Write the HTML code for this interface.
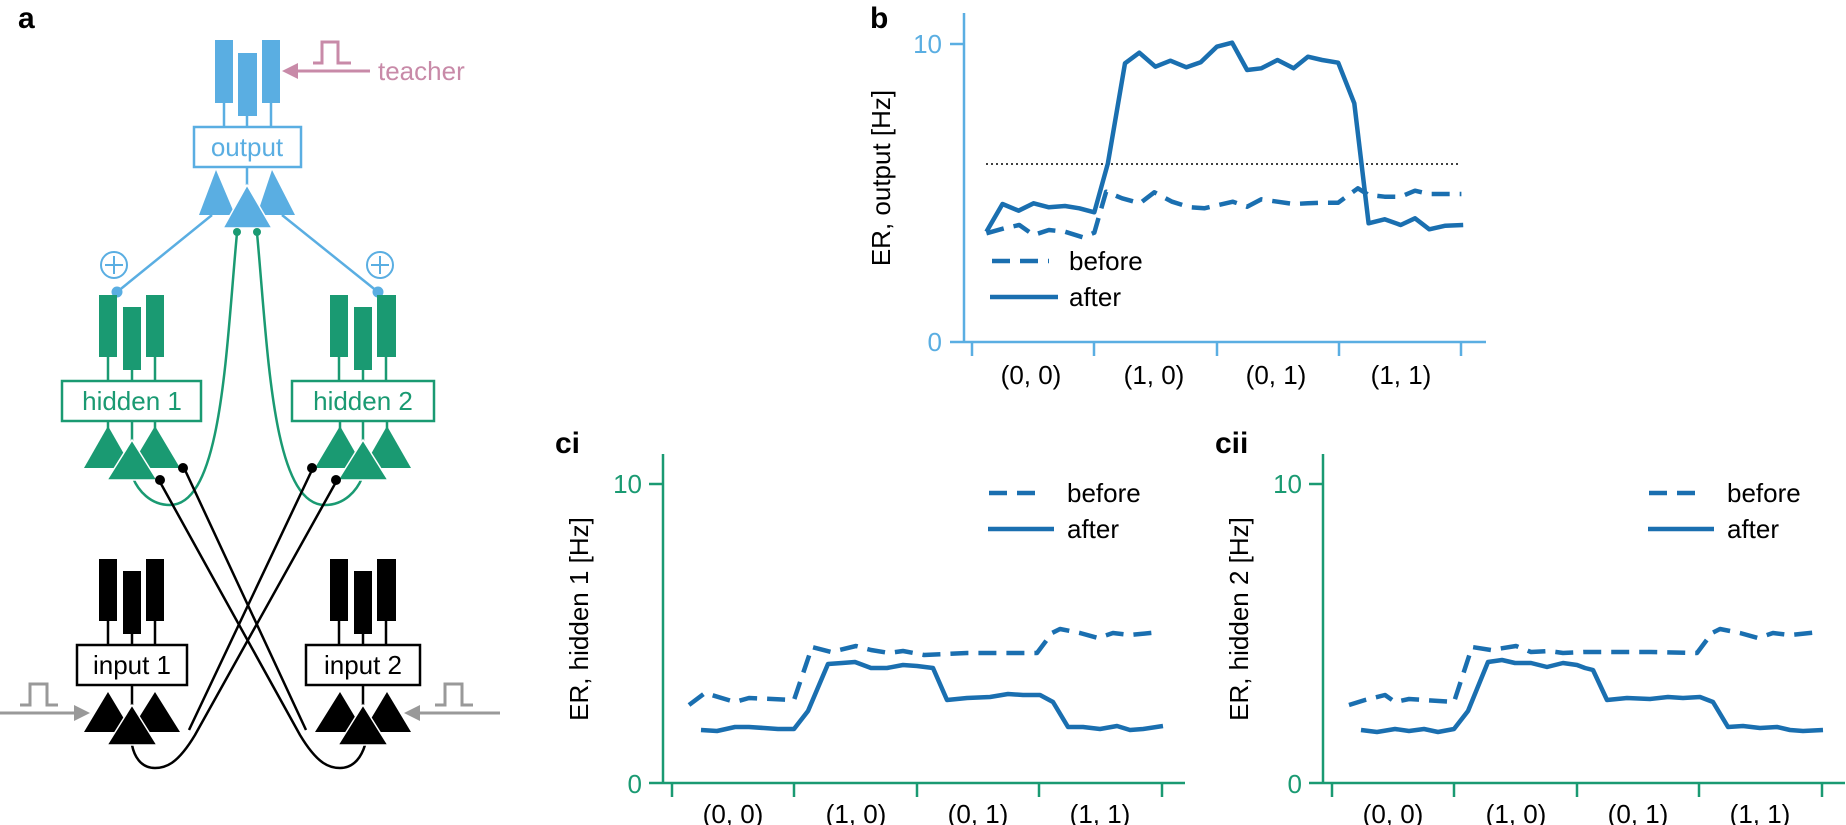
<!DOCTYPE html>
<html><head><meta charset="utf-8"><style>
body{margin:0;background:#fff}
svg{display:block;font-family:"Liberation Sans",Arial,sans-serif}
</style></head><body>
<svg id="s" width="1846" height="825" viewBox="0 0 1846 825" xmlns="http://www.w3.org/2000/svg">
<text x="18" y="28" font-size="30" font-weight="bold">a</text>
<g fill="#5aaee2" stroke="#5aaee2">
<rect x="215" y="40" width="18" height="63" stroke="none"/><rect x="238" y="53" width="19" height="63" stroke="none"/><rect x="262" y="40" width="18" height="63" stroke="none"/>
<line x1="224" y1="103" x2="224" y2="127" stroke-width="2.5"/><line x1="247" y1="116" x2="247" y2="127" stroke-width="2.5"/><line x1="271" y1="103" x2="271" y2="127" stroke-width="2.5"/>
<rect x="194" y="127" width="107" height="40" fill="#fff" stroke-width="2.5"/>
<line x1="247" y1="167" x2="247" y2="185" stroke-width="2.5"/>
<polygon points="216,170 199,215 235,215" stroke="none"/><polygon points="272,170 257,215 295,215" stroke="none"/>
<polygon points="247,185 223,228 272,228" stroke="#fff" stroke-width="1.5"/>
<line x1="212" y1="215" x2="117" y2="292" stroke-width="2.5"/><line x1="282" y1="215" x2="378" y2="292" stroke-width="2.5"/>
<circle cx="117" cy="292" r="5"/><circle cx="378" cy="292" r="5"/>
<g fill="none" stroke-width="2"><circle cx="114" cy="265" r="13"/><path d="M114 256v18M105 265h18"/><circle cx="380" cy="265" r="13"/><path d="M380 256v18M371 265h18"/></g>
</g>
<text x="247" y="156" font-size="26" fill="#5aaee2" text-anchor="middle">output</text>
<g stroke="#c88aa8" fill="none" stroke-width="3"><polyline points="313,63 322,63 322,42 338,42 338,63 351,63"/><line x1="370" y1="71" x2="295" y2="71"/></g>
<polygon points="282,71 298,63 298,79" fill="#c88aa8"/>
<text x="378" y="80" font-size="26" fill="#c88aa8">teacher</text>
<g fill="none" stroke="#1a9a72" stroke-width="2.5">
<path d="M237,233 C226,350 222,505 170,505 C150,505 138,490 133,478"/>
<path d="M257,233 C268,350 272,505 325,505 C345,505 357,490 362,478"/>
</g>
<circle cx="237" cy="232" r="4" fill="#1a9a72"/><circle cx="257" cy="232" r="4" fill="#1a9a72"/>
<g fill="#1a9a72" stroke="#1a9a72">
<rect x="99" y="295" width="18" height="62" stroke="none"/><rect x="123" y="307" width="18" height="63" stroke="none"/><rect x="146" y="295" width="18" height="62" stroke="none"/>
<line x1="108" y1="357" x2="108" y2="381" stroke-width="2.5"/><line x1="132" y1="370" x2="132" y2="381" stroke-width="2.5"/><line x1="155" y1="357" x2="155" y2="381" stroke-width="2.5"/>
<line x1="108" y1="421" x2="108" y2="430" stroke-width="2.5"/><line x1="132" y1="421" x2="132" y2="442" stroke-width="2.5"/><line x1="155" y1="421" x2="155" y2="430" stroke-width="2.5"/>
<polygon points="108,426 84,468 132,468" stroke="none"/><polygon points="155,426 130,468 180,468" stroke="none"/>
<polygon points="132,440 107,480 157,480" stroke="#fff" stroke-width="1.5"/>
<rect x="62" y="381" width="139" height="40" fill="#fff" stroke-width="2.5"/>
</g>
<text x="132" y="410" font-size="26" fill="#1a9a72" text-anchor="middle">hidden 1</text>
<g fill="#1a9a72" stroke="#1a9a72">
<rect x="330" y="295" width="18" height="62" stroke="none"/><rect x="354" y="307" width="18" height="63" stroke="none"/><rect x="377" y="295" width="19" height="62" stroke="none"/>
<line x1="339" y1="357" x2="339" y2="381" stroke-width="2.5"/><line x1="363" y1="370" x2="363" y2="381" stroke-width="2.5"/><line x1="386" y1="357" x2="386" y2="381" stroke-width="2.5"/>
<line x1="340" y1="421" x2="340" y2="430" stroke-width="2.5"/><line x1="363" y1="421" x2="363" y2="442" stroke-width="2.5"/><line x1="387" y1="421" x2="387" y2="430" stroke-width="2.5"/>
<polygon points="340,426 315,468 364,468" stroke="none"/><polygon points="387,426 363,468 411,468" stroke="none"/>
<polygon points="363,440 338,480 388,480" stroke="#fff" stroke-width="1.5"/>
<rect x="292" y="381" width="142" height="40" fill="#fff" stroke-width="2.5"/>
</g>
<text x="363" y="410" font-size="26" fill="#1a9a72" text-anchor="middle">hidden 2</text>
<g fill="none" stroke="#000" stroke-width="2.5">
<path d="M160,482 L300,735 C318,765 330,768 340,768 C355,768 362,755 365,745"/>
<path d="M185,470 L306,730"/>
<path d="M336,482 L195,735 C177,765 165,768 155,768 C140,768 134,755 132,745"/>
<path d="M312,470 L189,730"/>
</g>
<g fill="#000"><circle cx="160" cy="480" r="5"/><circle cx="183" cy="468" r="5"/><circle cx="312" cy="468" r="5"/><circle cx="336" cy="480" r="5"/></g>
<g fill="#000" stroke="#000">
<rect x="99" y="559" width="18" height="62" stroke="none"/><rect x="123" y="571" width="18" height="63" stroke="none"/><rect x="146" y="559" width="18" height="62" stroke="none"/>
<line x1="108" y1="621" x2="108" y2="645" stroke-width="2.5"/><line x1="132" y1="634" x2="132" y2="645" stroke-width="2.5"/><line x1="155" y1="621" x2="155" y2="645" stroke-width="2.5"/>
<line x1="132" y1="685" x2="132" y2="705" stroke-width="2.5"/>
<polygon points="108,692 84,732 132,732" stroke="none"/><polygon points="155,692 130,732 180,732" stroke="none"/>
<polygon points="132,705 107,745 157,745" stroke="#fff" stroke-width="1.5"/>
<rect x="77" y="645" width="110" height="40" fill="#fff" stroke-width="2.5"/>
<rect x="330" y="559" width="18" height="62" stroke="none"/><rect x="354" y="571" width="18" height="63" stroke="none"/><rect x="377" y="559" width="19" height="62" stroke="none"/>
<line x1="339" y1="621" x2="339" y2="645" stroke-width="2.5"/><line x1="363" y1="634" x2="363" y2="645" stroke-width="2.5"/><line x1="386" y1="621" x2="386" y2="645" stroke-width="2.5"/>
<line x1="363" y1="685" x2="363" y2="705" stroke-width="2.5"/>
<polygon points="340,692 315,732 364,732" stroke="none"/><polygon points="387,692 363,732 411,732" stroke="none"/>
<polygon points="363,705 338,745 388,745" stroke="#fff" stroke-width="1.5"/>
<rect x="306" y="645" width="114" height="40" fill="#fff" stroke-width="2.5"/>
</g>
<text x="132" y="674" font-size="26" text-anchor="middle">input 1</text>
<text x="363" y="674" font-size="26" text-anchor="middle">input 2</text>
<g stroke="#999" fill="none" stroke-width="3">
<line x1="0" y1="713" x2="78" y2="713"/><polyline points="20,705 30,705 30,684 47,684 47,705 58,705"/>
<line x1="500" y1="713" x2="416" y2="713"/><polyline points="435,705 445,705 445,684 462,684 462,705 473,705"/>
</g>
<polygon points="90,713 74,705 74,721" fill="#999"/><polygon points="404,713 420,705 420,721" fill="#999"/>

<text x="870" y="28" font-size="30" font-weight="bold">b</text>
<g stroke="#5aaee2" stroke-width="2.5" fill="none">
<line x1="964" y1="13" x2="964" y2="343"/><line x1="950" y1="44" x2="964" y2="44"/><line x1="950" y1="342" x2="1486" y2="342"/>
<path d="M972 342v14M1094 342v14M1217 342v14M1339 342v14M1461 342v14"/>
</g>
<text x="942" y="53" font-size="26" fill="#5aaee2" text-anchor="end">10</text>
<text x="942" y="351" font-size="26" fill="#5aaee2" text-anchor="end">0</text>
<g font-size="26" text-anchor="middle"><text x="1031" y="384">(0, 0)</text><text x="1154" y="384">(1, 0)</text><text x="1276" y="384">(0, 1)</text><text x="1401" y="384">(1, 1)</text></g>
<text transform="translate(890,178) rotate(-90)" font-size="26" text-anchor="middle">ER, output [Hz]</text>
<line x1="986" y1="164" x2="1460" y2="164" stroke="#000" stroke-width="1.5" stroke-dasharray="2,3"/>
<line x1="992" y1="261" x2="1049" y2="261" stroke="#1a6fb0" stroke-width="4.5" stroke-dasharray="18,10"/>
<line x1="990" y1="297" x2="1058" y2="297" stroke="#1a6fb0" stroke-width="4.5"/>
<text x="1069" y="270" font-size="26">before</text><text x="1069" y="306" font-size="26">after</text>

<g>
<text x="555" y="453" font-size="30" font-weight="bold">ci</text>
<g stroke="#1a9a72" stroke-width="2.5" fill="none">
<line x1="663" y1="454" x2="663" y2="784"/><line x1="649" y1="484" x2="663" y2="484"/><line x1="649" y1="783" x2="1185" y2="783"/>
<path d="M672 783v14M794 783v14M917 783v14M1039 783v14M1162 783v14"/>
</g>
<text x="642" y="493" font-size="26" fill="#1a9a72" text-anchor="end">10</text>
<text x="642" y="793" font-size="26" fill="#1a9a72" text-anchor="end">0</text>
<g font-size="26" text-anchor="middle"><text x="733" y="823">(0, 0)</text><text x="856" y="823">(1, 0)</text><text x="978" y="823">(0, 1)</text><text x="1100" y="823">(1, 1)</text></g>
<text transform="translate(588,619) rotate(-90)" font-size="26" text-anchor="middle">ER, hidden 1 [Hz]</text>
<line x1="989" y1="493" x2="1045" y2="493" stroke="#1a6fb0" stroke-width="4.5" stroke-dasharray="18,10"/>
<line x1="988" y1="529" x2="1054" y2="529" stroke="#1a6fb0" stroke-width="4.5"/>
<text x="1067" y="502" font-size="26">before</text><text x="1067" y="538" font-size="26">after</text>
<polyline fill="none" stroke="#1a6fb0" stroke-width="4.5" stroke-linejoin="round" stroke-dasharray="18,10" points="689,705 705,693 735,702 749,698 794,700 812,647 831,652 856,646 871,650 889,653 903,651 924,655 967,653 990,653 1037,653 1052,633 1060,629 1080,633 1098,638 1113,633 1130,635 1160,632"/>
<polyline fill="none" stroke="#1a6fb0" stroke-width="4.5" stroke-linejoin="round" points="701,730 717,731 735,727 749,727 764,728 778,729 794,729 808,711 828,664 842,663 855,662 871,668 887,668 903,665 917,666 933,668 947,700 967,698 990,697 1008,694 1023,695 1040,695 1053,702 1068,727 1083,727 1100,729 1117,726 1130,730 1143,729 1163,726"/>
</g>
<g transform="translate(660,0)">
<text x="555" y="453" font-size="30" font-weight="bold">cii</text>
<g stroke="#1a9a72" stroke-width="2.5" fill="none">
<line x1="663" y1="454" x2="663" y2="784"/><line x1="649" y1="484" x2="663" y2="484"/><line x1="649" y1="783" x2="1185" y2="783"/>
<path d="M672 783v14M794 783v14M917 783v14M1039 783v14M1162 783v14"/>
</g>
<text x="642" y="493" font-size="26" fill="#1a9a72" text-anchor="end">10</text>
<text x="642" y="793" font-size="26" fill="#1a9a72" text-anchor="end">0</text>
<g font-size="26" text-anchor="middle"><text x="733" y="823">(0, 0)</text><text x="856" y="823">(1, 0)</text><text x="978" y="823">(0, 1)</text><text x="1100" y="823">(1, 1)</text></g>
<text transform="translate(588,619) rotate(-90)" font-size="26" text-anchor="middle">ER, hidden 2 [Hz]</text>
<line x1="989" y1="493" x2="1045" y2="493" stroke="#1a6fb0" stroke-width="4.5" stroke-dasharray="18,10"/>
<line x1="988" y1="529" x2="1054" y2="529" stroke="#1a6fb0" stroke-width="4.5"/>
<text x="1067" y="502" font-size="26">before</text><text x="1067" y="538" font-size="26">after</text>
<polyline fill="none" stroke="#1a6fb0" stroke-width="4.5" stroke-linejoin="round" stroke-dasharray="18,10" points="689,705 705,700 725,695 735,702 749,699 794,702 812,647 831,650 856,646 871,652 889,651 903,653 924,652 967,652 990,652 1037,653 1052,633 1060,629 1080,633 1098,638 1113,633 1130,635 1160,632"/>
<polyline fill="none" stroke="#1a6fb0" stroke-width="4.5" stroke-linejoin="round" points="701,730 717,732 735,729 749,731 764,729 778,732 794,729 808,711 828,662 842,660 855,663 871,663 887,667 903,663 917,665 925,668 933,670 947,700 967,698 990,699 1008,697 1023,698 1040,697 1053,702 1068,727 1083,726 1100,728 1117,727 1130,730 1143,731 1163,730"/>
</g>
<g stroke="#1a6fb0" stroke-width="4.5" fill="none" stroke-linejoin="round">
<polyline id="bafter" points=""/>
<polyline id="bbefore" points="" stroke-dasharray="18,10"/>
</g>
</svg>
<script>
var a=[[130,695],[175,612],[220,632],[262,610],[305,622],[350,618],[390,625],[432,637],[470,490],[518,190],[558,158],[603,200],[645,182],[690,202],[730,187],[775,140],[818,128],[860,210],[900,205],[945,180],[990,205],[1030,170],[1070,180],[1115,188],[1160,310],[1200,670],[1245,658],[1290,675],[1330,655],[1370,688],[1415,677],[1465,675]];
var b=[[130,700],[180,685],[222,675],[262,705],[305,690],[350,695],[400,712],[432,698],[465,575],[510,595],[560,610],[600,577],[650,605],[700,622],[740,625],[780,615],[820,605],[860,620],[900,598],[945,605],[990,612],[1030,610],[1075,608],[1115,608],[1170,565],[1200,585],[1245,590],[1290,590],[1330,572],[1370,582],[1460,582]];
function m(p){return p.map(function(q){return (940+q[0]/2.8).toFixed(1)+","+(q[1]/3).toFixed(1)}).join(" ")}
document.getElementById("bafter").setAttribute("points",m(a));
document.getElementById("bbefore").setAttribute("points",m(b));
</script>
</body></html>
